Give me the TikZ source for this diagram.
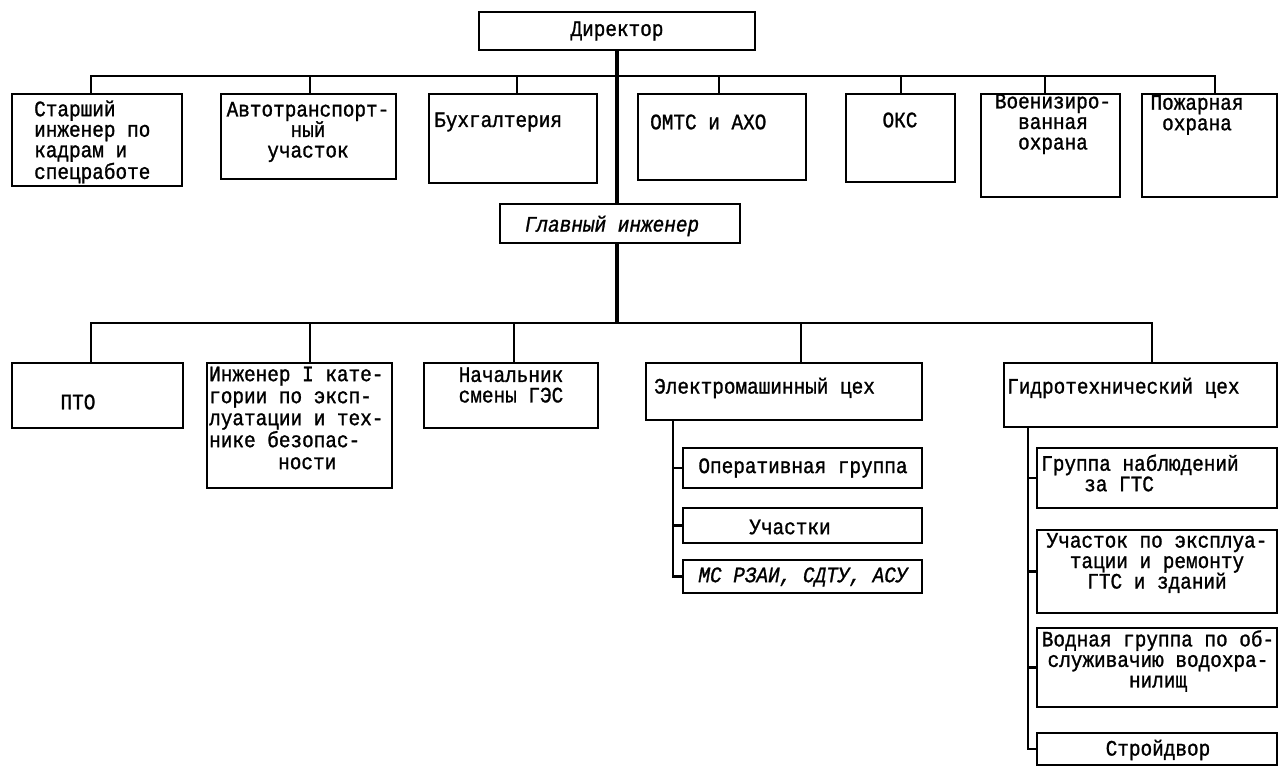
\documentclass[tikz,border=0pt]{standalone}
\usepackage{fontspec}
\setmainfont{Liberation Mono}[FakeStretch=0.88,FakeBold=1.2]
\newcommand{\mkbox}[5]{\node[orgbox, minimum width={(#4-#2)*1pt}, minimum height={(#5-#3)*1pt}] (#1) at ({(#2+#4)/2},{(#3+#5)/2}) {};}
\begin{document}
\begin{tikzpicture}[x=1pt,y=-1pt,
  orgbox/.style={draw, line width=1.7pt, inner sep=0pt, outer sep=0pt},
  txt/.style={inner sep=0pt, font=\fontsize{22}{20.5}\selectfont, align=center},
  itx/.style={txt, font=\fontsize{22}{20.5}\selectfont\itshape},
  trunk/.style={line width=3.4pt},
  bar/.style={line width=2.6pt, line join=miter},
  link/.style={line width=2.1pt, line join=miter}]
\useasboundingbox (0,0) rectangle (1280,768);

% Director
\mkbox{dir}{479}{12}{755}{50}
\node[txt] (dir-t) at (617,31) {Директор};

% top row
\mkbox{s1}{12}{94}{182}{186}
\node[txt, align=left, anchor=west] (s1-t) at (34,142) {Старший\\инженер по\\кадрам и\\спецработе};
\mkbox{s2}{221}{94}{396}{179}
\node[txt] (s2-t) at (308,132) {Автотранспорт-\\ный\\участок};
\mkbox{s3}{429}{94}{597}{183}
\node[txt, anchor=west] (s3-t) at (434,122) {Бухгалтерия};
\mkbox{s4}{638}{94}{806}{180}
\node[txt, anchor=west] (s4-t) at (650,122) {ОМТС и АХО};
\mkbox{s5}{846}{94}{955}{182}
\node[txt] (s5-t) at (900,120) {ОКС};
\mkbox{s6}{981}{94}{1120}{197}
\node[txt] (s6-t) at (1053,124) {Военизиро-\\ванная\\охрана};
\mkbox{s7}{1142}{94}{1277}{197}
\node[txt] (s7-t) at (1197,115) {Пожарная\\охрана};

% chief engineer
\mkbox{gi}{500}{204}{740}{243}
\node[itx] (gi-t) at (612,226) {Главный инженер};

% lower row
\mkbox{b1}{12}{363}{183}{428}
\node[txt] (b1-t) at (78,402) {ПТО};
\mkbox{b2}{207}{363}{392}{488}
\node[txt, align=left, anchor=west, font=\fontsize{22}{22}\selectfont] (b2-t) at (209,418) {Инженер I кате-\\гории по эксп-\\луатации и тех-\\нике безопас-\\\hspace*{69pt}ности};
\mkbox{b3}{424}{363}{598}{428}
\node[txt] (b3-t) at (511,385) {Начальник\\смены ГЭС};
\mkbox{b4}{646}{363}{922}{420}
\node[txt, anchor=west] (b4-t) at (654,388) {Электромашинный цех};
\mkbox{b5}{1004}{363}{1277}{427}
\node[txt, anchor=west] (b5-t) at (1007,388) {Гидротехнический цех};

% electro sub-units
\mkbox{e1}{683}{448}{922}{488}
\node[txt] (e1-t) at (803,468) {Оперативная группа};
\mkbox{e2}{683}{508}{922}{543}
\node[txt] (e2-t) at (790,527) {Участки};
\mkbox{e3}{683}{560}{922}{593}
\node[itx] (e3-t) at (803,577) {МС РЗАИ, СДТУ, АСУ};

% hydro sub-units
\mkbox{h1}{1037}{448}{1277}{508}
\node[txt, align=left, anchor=west] (h1-t) at (1041,473) {Группа наблюдений\\\hspace*{43pt}за ГТС};
\mkbox{h2}{1037}{530}{1277}{613}
\node[txt] (h2-t) at (1157,563) {Участок по эксплуа-\\тации и ремонту\\ГТС и зданий};
\mkbox{h3}{1037}{628}{1277}{707}
\node[txt] (h3-t) at (1158,661) {Водная группа по об-\\служивачию водохра-\\нилищ};
\mkbox{h4}{1037}{733}{1277}{765}
\node[txt] (h4-t) at (1158,750) {Стройдвор};

% bar coordinates
\coordinate (tb) at (617,76);
\coordinate (lb) at (617,323);
\coordinate (d1) at (91,76);
\coordinate (d2) at (310,76);
\coordinate (d3) at (517,76);
\coordinate (d4) at (719,76);
\coordinate (d5) at (901,76);
\coordinate (d6) at (1045,76);
\coordinate (d7) at (1215,76);
\coordinate (l1) at (91,323);
\coordinate (l2) at (310,323);
\coordinate (l3) at (514,323);
\coordinate (l4) at (801,323);
\coordinate (l5) at (1152,323);
\coordinate (ex) at (673,0);
\coordinate (hx) at (1028,0);

% trunk
\draw[trunk] (dir.south -| tb) -- (gi.north -| tb);
\draw[trunk] (gi.south -| tb) -- (lb);

% top bar and drops
\draw[bar] (d1 |- s1.north) -- (d1) -- (d7) -- (d7 |- s7.north);
\draw[link] (d2) -- (d2 |- s2.north);
\draw[link] (d3) -- (d3 |- s3.north);
\draw[link] (d4) -- (d4 |- s4.north);
\draw[link] (d5) -- (d5 |- s5.north);
\draw[link] (d6) -- (d6 |- s6.north);

% lower bar and drops
\draw[bar] (l1 |- b1.north) -- (l1) -- (l5) -- (l5 |- b5.north);
\draw[link] (l2) -- (l2 |- b2.north);
\draw[link] (l3) -- (l3 |- b3.north);
\draw[link] (l4) -- (l4 |- b4.north);

% electro sub-trunk
\draw[link] (b4.south -| ex) -- (e3.west -| ex) -- (e3.west);
\draw[link] (e1.west -| ex) -- (e1.west);
\draw[link] (e2.west -| ex) -- (e2.west);

% hydro sub-trunk
\draw[link] (b5.south -| hx) -- (h4.west -| hx) -- (h4.west);
\draw[link] (h1.west -| hx) -- (h1.west);
\draw[link] (h2.west -| hx) -- (h2.west);
\draw[link] (h3.west -| hx) -- (h3.west);
\end{tikzpicture}
\end{document}
